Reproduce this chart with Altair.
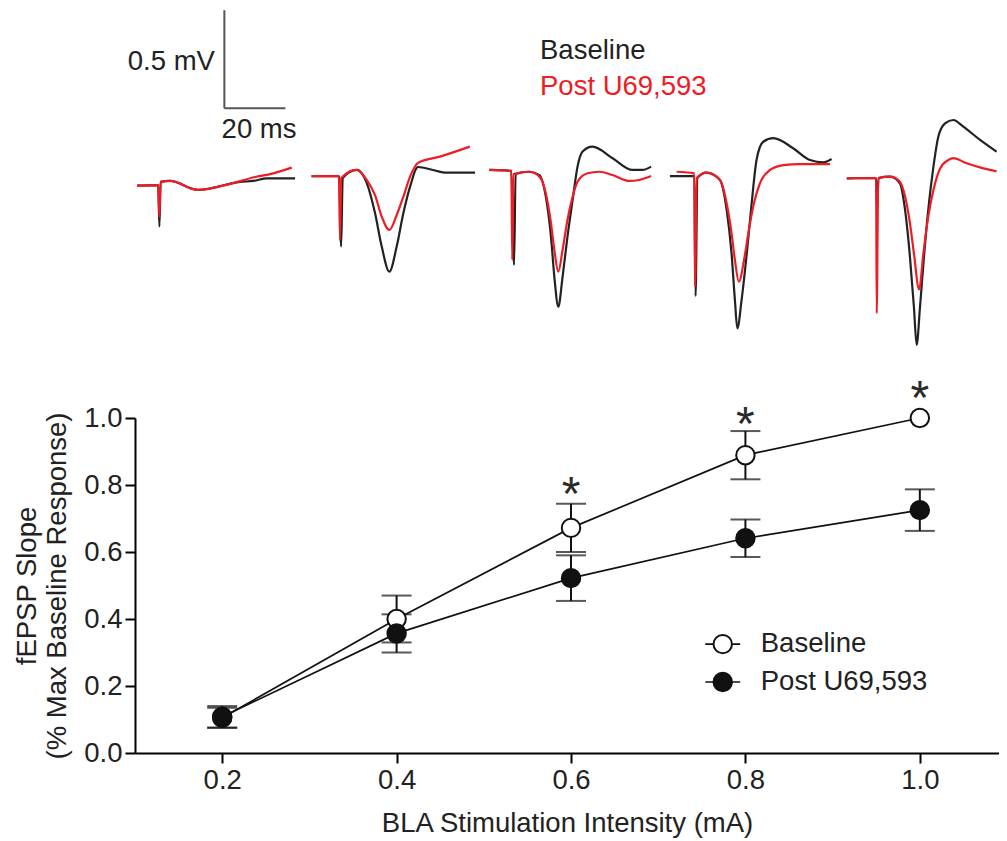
import altair as alt
import pandas as pd

# ---------------- main plot data ----------------
intensity = [0.2, 0.4, 0.6, 0.8, 1.0]
baseline_mean = [0.105, 0.400, 0.672, 0.889, 1.000]
baseline_sem = [0.030, 0.070, 0.072, 0.072, 0.000]
post_mean = [0.108, 0.357, 0.522, 0.641, 0.725]
post_sem = [0.032, 0.057, 0.068, 0.056, 0.062]
series_names = ["Baseline", "Post U69,593"]
y_ticks = [0.0, 0.2, 0.4, 0.6, 0.8, 1.0]

star_intensity = [0.6, 0.8, 1.0]
star_height = [0.806, 1.015, 1.094]

# ---------------- example traces (time ms, voltage mV) ----------------
s1_black_t = [-7.3, -0.4, 0.0, 0.4, 3.5, 12.7, 26.5, 30.8, 35.2, 44.5]
s1_black_v = [-0.039, -0.036, -0.248, -0.020, -0.015, -0.061, -0.020, -0.015, -0.002, -0.002]
s1_red_t = [-7.3, -0.4, 0.0, 0.4, 3.5, 12.7, 23.2, 31.4, 36.3, 43.4]
s1_red_v = [-0.039, -0.036, -0.197, -0.020, -0.015, -0.061, -0.030, 0.005, 0.020, 0.053]

s2_black_t = [-9.3, -0.3, 0.4, 0.9, 5.5, 8.8, 11.5, 13.7, 16.2, 18.6, 20.8, 23.0, 25.6, 30.5, 35.0, 44.3]
s2_black_v = [0.010, 0.010, -0.350, 0.000, 0.041, -0.026, -0.179, -0.350, -0.478, -0.350, -0.179, -0.044, 0.056, 0.041, 0.027, 0.027]
s2_red_t = [-9.3, -0.3, 0.0, 0.4, 5.5, 8.8, 11.5, 13.7, 16.2, 18.6, 20.8, 23.0, 25.6, 32.8, 42.6]
s2_red_v = [0.010, 0.010, -0.316, 0.000, 0.041, -0.010, -0.087, -0.197, -0.265, -0.189, -0.095, 0.007, 0.077, 0.109, 0.160]

s3_black_t = [-7.5, -0.3, 0.6, 1.1, 5.6, 8.9, 11.0, 12.7, 13.8, 15.1, 16.5, 18.1, 19.8, 21.4, 23.0, 26.3, 32.9, 39.4, 42.7, 45.5]
s3_black_v = [0.041, 0.036, -0.444, 0.020, 0.032, 0.015, -0.095, -0.300, -0.504, -0.657, -0.504, -0.300, -0.112, 0.058, 0.134, 0.160, 0.101, 0.041, 0.041, 0.058]
s3_red_t = [-7.5, -0.3, 0.0, 0.4, 5.6, 8.9, 11.0, 12.7, 13.8, 15.1, 16.5, 18.1, 19.8, 21.4, 24.7, 28.5, 32.9, 38.4, 41.6, 45.5]
s3_red_v = [0.041, 0.036, -0.418, 0.020, 0.032, 0.007, -0.078, -0.231, -0.367, -0.478, -0.367, -0.214, -0.095, -0.019, 0.024, 0.032, 0.015, -0.015, -0.010, 0.010]

s4_black_t = [-8.2, -0.2, 0.2, 0.8, 3.8, 8.2, 10.4, 12.0, 13.1, 13.9, 15.3, 17.0, 18.6, 20.2, 22.4, 25.7, 32.2, 37.7, 42.1, 44.8]
s4_black_v = [0.010, 0.010, -0.602, 0.000, 0.027, -0.010, -0.163, -0.384, -0.622, -0.767, -0.622, -0.384, -0.129, 0.092, 0.185, 0.203, 0.152, 0.092, 0.080, 0.097]
s4_red_t = [-6.0, -0.2, 0.0, 0.6, 3.8, 8.2, 10.4, 12.0, 13.1, 14.4, 16.1, 17.5, 19.1, 21.3, 24.6, 29.0, 34.4, 44.3]
s4_red_v = [0.032, 0.024, -0.553, 0.000, 0.027, -0.010, -0.129, -0.282, -0.418, -0.529, -0.418, -0.282, -0.146, -0.027, 0.041, 0.066, 0.071, 0.071]

s5_black_t = [-9.8, -0.2, 0.1, 0.6, 4.4, 7.6, 9.3, 10.9, 12.2, 13.1, 14.2, 15.5, 16.9, 18.6, 20.2, 22.4, 25.1, 28.4, 33.9, 39.3]
s5_black_v = [-0.002, 0.000, -0.163, 0.000, 0.007, -0.027, -0.163, -0.402, -0.657, -0.852, -0.657, -0.402, -0.163, 0.058, 0.211, 0.279, 0.296, 0.262, 0.194, 0.134]
s5_red_t = [-9.8, -0.2, 0.0, 0.5, 4.4, 7.6, 9.3, 10.9, 12.2, 13.9, 15.3, 16.9, 18.6, 20.8, 23.5, 25.1, 29.5, 35.0, 39.3]
s5_red_v = [-0.002, 0.000, -0.690, 0.000, 0.007, -0.019, -0.095, -0.231, -0.384, -0.568, -0.384, -0.197, -0.061, 0.049, 0.092, 0.101, 0.075, 0.049, 0.034]

scalebar_ms = 20
scalebar_mv = 0.5
trace_labels = ["Baseline", "Post U69,593"]

# ---------------- layout ----------------
W, H = 864, 745
FONT = "Liberation Sans"
FS = 27.5
BLACK = "#111111"
TXT = "#222222"
RED = "#ee1c25"
sweep_offset_ms = [8.0, 67.2, 123.7, 183.6, 243.2]   # horizontal placement of each sweep
trace_x_span = 283.3                                   # ms across the plot width
scalebar_anchor = (29.3, 0.356)
leg_x, leg_rows, leg_half = 0.774, [0.325, 0.212], 0.02

# ---------------- build tables ----------------
rows = []
for name, means, sems in [(series_names[0], baseline_mean, baseline_sem),
                          (series_names[1], post_mean, post_sem)]:
    for x, m, s in zip(intensity, means, sems):
        rows.append(dict(series=name, x=x, y=m, lo=m - s, hi=m + s, sem=s))
df = pd.DataFrame(rows)
df_err = df[df["sem"] > 0]

stars = pd.DataFrame(dict(x=star_intensity, y=star_height))
legend_df = pd.DataFrame(dict(series=series_names, x=[leg_x] * 2, xa=[leg_x - leg_half] * 2,
                              xb=[leg_x + leg_half] * 2, y=leg_rows))

sweeps = [(s1_black_t, s1_black_v, s1_red_t, s1_red_v),
          (s2_black_t, s2_black_v, s2_red_t, s2_red_v),
          (s3_black_t, s3_black_v, s3_red_t, s3_red_v),
          (s4_black_t, s4_black_v, s4_red_t, s4_red_v),
          (s5_black_t, s5_black_v, s5_red_t, s5_red_v)]
trows = []
for i, (bt, bv, rt, rv) in enumerate(sweeps):
    off = sweep_offset_ms[i]
    for k, (t, v) in enumerate(zip(bt, bv)):
        trows.append(dict(sweep=i, cond="black", t=t + off, v=v, o=k))
    for k, (t, v) in enumerate(zip(rt, rv)):
        trows.append(dict(sweep=i, cond="red", t=t + off, v=v, o=k))
tdf = pd.DataFrame(trows)

# ---------------- main panel ----------------
xs = alt.Scale(domain=[0.1, 1.0908], nice=False)
ys = alt.Scale(domain=[0, 1], range=[H, 410], nice=False)
xaxis = alt.Axis(values=intensity, format=".1f", title="BLA Stimulation Intensity (mA)",
                 grid=False, domainColor="black", domainWidth=2, tickColor="black", tickWidth=2,
                 tickSize=10, labelFont=FONT, labelFontSize=FS, labelColor=TXT, labelPadding=3,
                 titleFont=FONT, titleFontSize=FS, titleFontWeight="normal", titleColor=TXT,
                 titlePadding=16)
yaxis = alt.Axis(values=y_ticks, format=".1f", title=["fEPSP Slope", "(% Max Baseline Response)"],
                 grid=False, domainColor="black", domainWidth=2, tickColor="black", tickWidth=2,
                 tickSize=10, labelFont=FONT, labelFontSize=FS, labelColor=TXT, labelPadding=3,
                 titleFont=FONT, titleFontSize=FS, titleFontWeight="normal", titleColor=TXT,
                 titlePadding=12, titleLineHeight=30)


def X(f):
    return alt.X(f, type="quantitative", scale=xs, axis=xaxis)


def Y(f):
    return alt.Y(f, type="quantitative", scale=ys, axis=yaxis)


base = alt.Chart(df)
lines = base.mark_line(color=BLACK, strokeWidth=1.7).encode(x=X("x"), y=Y("y"), detail="series:N")
errs = alt.Chart(df_err).mark_errorbar(ticks=True, size=30, thickness=2, color=BLACK).encode(
    x=X("x"), y=Y("lo"), y2="hi")
pts_base = alt.Chart(df[df["series"] == series_names[0]]).mark_point(
    shape="circle", filled=True, fill="white", stroke=BLACK, strokeWidth=2, size=340, opacity=1
).encode(x=X("x"), y=Y("y"))
pts_post = alt.Chart(df[df["series"] == series_names[1]]).mark_point(
    shape="circle", filled=True, fill=BLACK, stroke=BLACK, strokeWidth=2, size=340, opacity=1
).encode(x=X("x"), y=Y("y"))
star_txt = alt.Chart(stars).mark_text(text="*", font=FONT, fontSize=48, color="#2a2a2a",
                                      baseline="alphabetic", dy=27).encode(x=X("x"), y=Y("y"))

leg_line = alt.Chart(legend_df).mark_rule(color=BLACK, strokeWidth=1.7).encode(
    x=X("xa"), x2="xb", y=Y("y"))
leg_open = alt.Chart(legend_df[legend_df["series"] == series_names[0]]).mark_point(
    shape="circle", filled=True, fill="white", stroke=BLACK, strokeWidth=2, size=340, opacity=1
).encode(x=X("x"), y=Y("y"))
leg_fill = alt.Chart(legend_df[legend_df["series"] == series_names[1]]).mark_point(
    shape="circle", filled=True, fill=BLACK, stroke=BLACK, strokeWidth=2, size=340, opacity=1
).encode(x=X("x"), y=Y("y"))
leg_text = alt.Chart(legend_df).mark_text(font=FONT, fontSize=FS, color=TXT, align="left",
                                          baseline="middle", dx=38).encode(
    x=X("x"), y=Y("y"), text="series:N")

main = alt.layer(lines, errs, pts_base, pts_post, star_txt, leg_line, leg_open, leg_fill, leg_text)

# ---------------- traces panel ----------------
txs = alt.Scale(domain=[0, trace_x_span], nice=False)
tys = alt.Scale(domain=[0, 0.5], range=[170, 72], nice=False)


def TX(f):
    return alt.X(f, type="quantitative", scale=txs, axis=None)


def TY(f):
    return alt.Y(f, type="quantitative", scale=tys, axis=None)


tr_black = alt.Chart(tdf[tdf["cond"] == "black"]).mark_line(
    color="#222222", strokeWidth=2.2, interpolate="monotone").encode(
    x=TX("t"), y=TY("v"), detail="sweep:N", order="o:Q")
tr_red = alt.Chart(tdf[tdf["cond"] == "red"]).mark_line(
    color=RED, strokeWidth=2.2, interpolate="monotone").encode(
    x=TX("t"), y=TY("v"), detail="sweep:N", order="o:Q")

sb = pd.DataFrame(dict(x=[scalebar_anchor[0]], x2=[scalebar_anchor[0] + scalebar_ms],
                       y=[scalebar_anchor[1]], y2=[scalebar_anchor[1] + scalebar_mv]))
sb_v = alt.Chart(sb).mark_rule(color="#555555", strokeWidth=2).encode(x=TX("x"), y=TY("y"), y2="y2")
sb_h = alt.Chart(sb).mark_rule(color="#555555", strokeWidth=2).encode(x=TX("x"), x2="x2", y=TY("y"))

lbl = pd.DataFrame(dict(
    text=[f"{scalebar_mv} mV", f"{scalebar_ms} ms", trace_labels[0], trace_labels[1]],
    x=[26.2, 28.4, 132.8, 132.8],
    y=[0.551, 0.204, 0.606, 0.423],
    side=["right", "left", "left", "left"],
    col=[TXT, TXT, TXT, RED],
))
lbl_r = alt.Chart(lbl[lbl["side"] == "right"]).mark_text(
    font=FONT, fontSize=FS, align="right", baseline="alphabetic").encode(
    x=TX("x"), y=TY("y"), text="text:N", color=alt.Color("col:N", scale=None))
lbl_l = alt.Chart(lbl[lbl["side"] == "left"]).mark_text(
    font=FONT, fontSize=FS, align="left", baseline="alphabetic").encode(
    x=TX("x"), y=TY("y"), text="text:N", color=alt.Color("col:N", scale=None))

top = alt.layer(tr_black, tr_red, sb_v, sb_h, lbl_r, lbl_l)

chart = alt.layer(main, top).resolve_scale(x="independent", y="independent").properties(
    width=W, height=H,
    padding={"left": 127, "top": 0, "right": 0, "bottom": 86},
    autosize=alt.AutoSizeParams(type="none"),
).configure_view(stroke=None)

chart.save("out.html", embed_options={"renderer": "svg", "actions": False})
